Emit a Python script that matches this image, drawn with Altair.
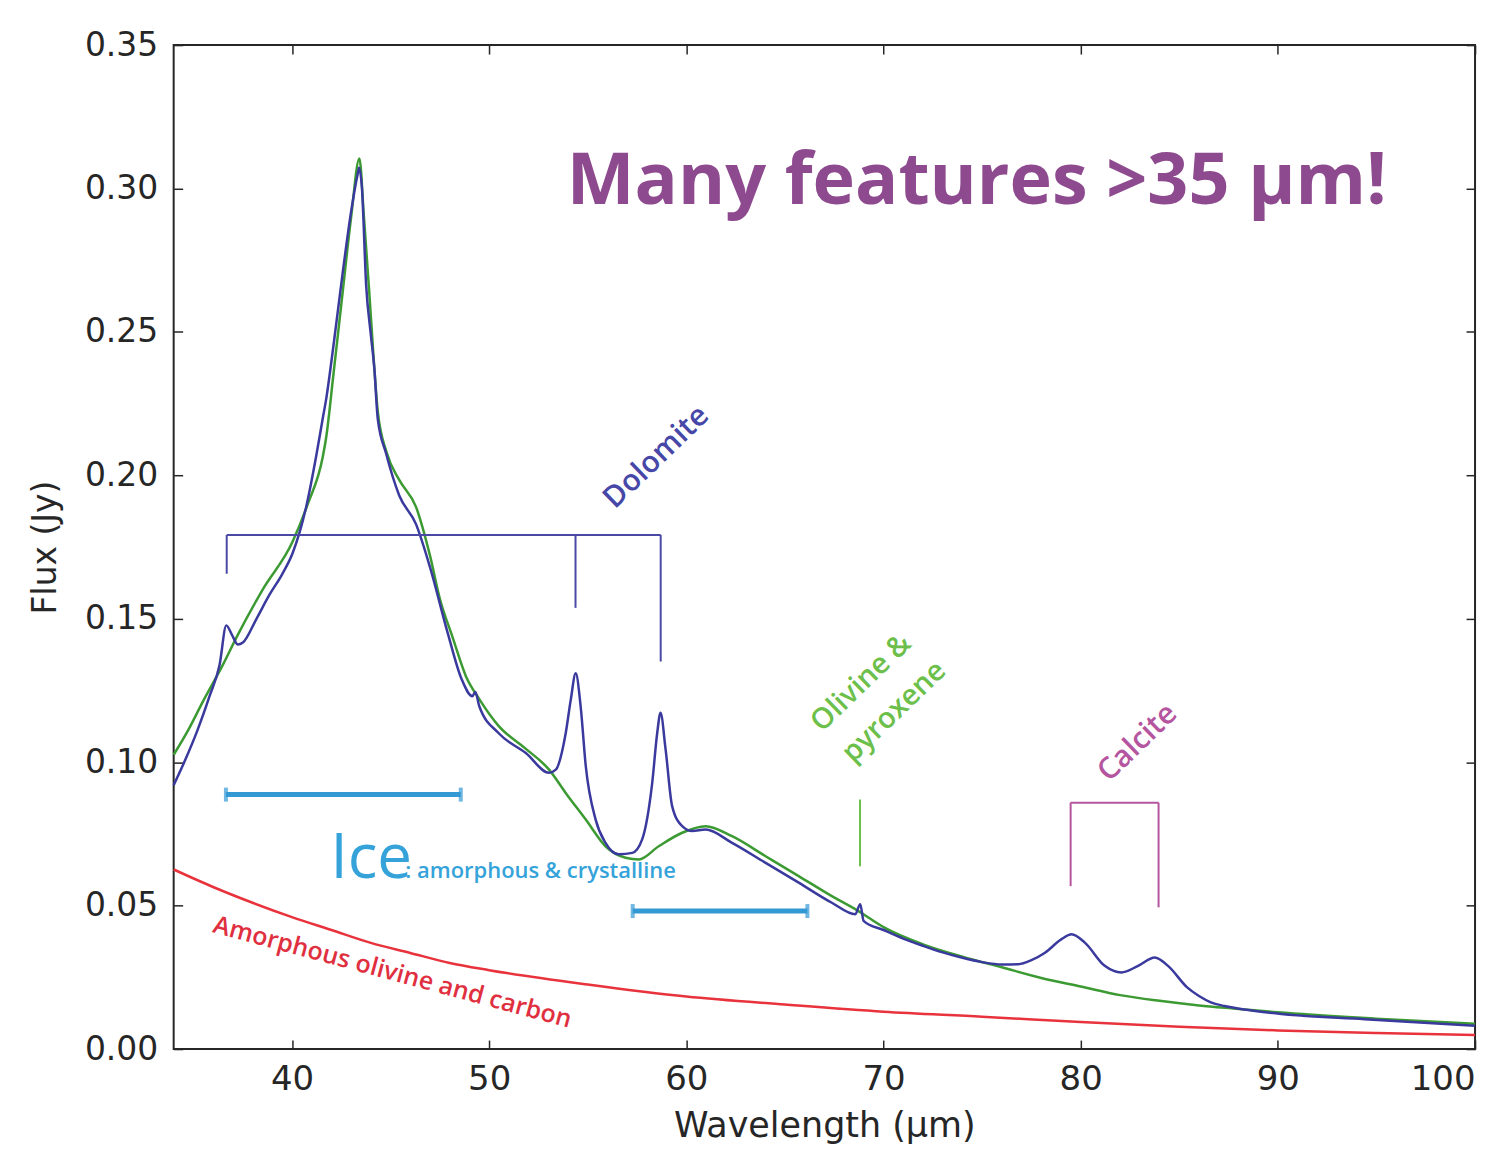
import altair as alt
import pandas as pd

# ---------------- data ----------------
blue_x = [34.0, 34.6, 35.2, 35.82, 36.33, 36.67, 36.95, 37.26, 37.51, 38.2, 38.86, 39.5, 40.04,
          40.72, 41.22, 41.56, 41.73, 42.1, 42.57, 43.0, 43.33, 43.4, 43.55, 43.76, 44.0, 44.18,
          44.35, 44.77, 45.44, 46.29, 47.0, 47.9, 48.6, 49.15, 49.3, 49.5, 50.5, 51.86, 53.04,
          53.38, 53.88, 54.14, 54.39, 54.64, 54.9, 55.4, 55.9, 56.58, 57.26, 57.76, 58.27, 58.52,
          58.69, 58.95, 59.28, 59.79, 60.3, 60.97, 62.32, 64.0, 65.7, 67.38, 68.57, 68.82, 68.99,
          70.0, 71.0, 72.0, 73.0, 74.0, 75.0, 76.0, 76.84, 77.5, 78.19, 79.03, 79.54, 80.21, 81.22,
          82.07, 82.91, 83.76, 84.43, 85.4, 86.0, 86.6, 87.3, 88.5, 90.18, 94.4, 100.0]
blue_y = [0.092, 0.101, 0.111, 0.123, 0.134, 0.1477, 0.1445, 0.141, 0.1417, 0.150, 0.1584, 0.1655,
          0.173, 0.189, 0.2064, 0.2198, 0.2264, 0.245, 0.2705, 0.292, 0.305, 0.3072, 0.300, 0.2665,
          0.249, 0.237, 0.2198, 0.2077, 0.193, 0.183, 0.168, 0.145, 0.129, 0.123, 0.1245, 0.1195,
          0.110, 0.1032, 0.0963, 0.0974, 0.110, 0.1218, 0.131, 0.1195, 0.0986, 0.080, 0.0719,
          0.0679, 0.0684, 0.0731, 0.0928, 0.110, 0.1172, 0.1044, 0.0847, 0.0777, 0.076, 0.0765,
          0.0719, 0.065, 0.058, 0.051, 0.047, 0.0505, 0.0447, 0.0415, 0.0385, 0.036, 0.0337,
          0.0318, 0.0303, 0.0295, 0.0296, 0.031, 0.0336, 0.0383, 0.040, 0.0371, 0.029, 0.0267,
          0.029, 0.0319, 0.029, 0.0215, 0.0185, 0.0163, 0.0150, 0.0136, 0.0122, 0.0104, 0.0081]

green_x = [34.0, 34.8, 35.5, 36.5, 37.2, 38.5, 40.04, 40.8, 41.56, 41.73, 42.1, 42.57, 43.0, 43.42,
           43.65, 43.92, 44.15, 44.35, 44.8, 45.44, 46.29, 47.0, 47.5, 48.14, 48.82, 49.5, 50.5,
           51.8, 53.04, 53.88, 54.9, 55.9, 56.92, 57.59, 58.6, 59.79, 60.97, 62.32, 64.0, 65.7,
           67.38, 68.73, 70.0, 72.0, 74.0, 76.0, 78.0, 80.0, 82.0, 84.0, 86.0, 88.0, 90.0, 95.0,
           100.0]
green_y = [0.1026, 0.112, 0.1214, 0.134, 0.1437, 0.160, 0.177, 0.190, 0.2064, 0.213, 0.235, 0.2638,
           0.290, 0.3105, 0.290, 0.2638, 0.240, 0.2224, 0.208, 0.1984, 0.189, 0.172, 0.157, 0.1437,
           0.130, 0.122, 0.1125, 0.105, 0.0974, 0.0893, 0.080, 0.0707, 0.0667, 0.0661, 0.0707,
           0.0754, 0.0777, 0.0742, 0.0673, 0.0603, 0.0533, 0.0481, 0.0425, 0.0365, 0.0322, 0.0285,
           0.0248, 0.0218, 0.0188, 0.0168, 0.0152, 0.0140, 0.0128, 0.0106, 0.0088]

red_x = [34, 36, 38, 40, 42, 44, 46, 48, 50, 55, 60, 65, 70, 75, 80, 85, 90, 95, 100]
red_y = [0.0626, 0.0565, 0.051, 0.046, 0.0415, 0.037, 0.0335, 0.030, 0.0275, 0.0225, 0.0183,
         0.0155, 0.013, 0.0113, 0.0094, 0.0078, 0.0065, 0.0056, 0.0049]

x_ticks = [40, 50, 60, 70, 80, 90, 100]
y_ticks = [0.0, 0.05, 0.10, 0.15, 0.20, 0.25, 0.30, 0.35]

# annotation brackets (x, y, x2, y2 in data units)
dolo_x = [36.69, 36.69, 54.38, 58.70]
dolo_y = [0.1792, 0.1792, 0.1792, 0.1792]
dolo_x2 = [58.70, 36.69, 54.38, 58.70]
dolo_y2 = [0.1792, 0.1657, 0.1538, 0.1351]

oliv_x = [68.81]
oliv_y = [0.0870]
oliv_x2 = [68.81]
oliv_y2 = [0.0637]

calc_x = [79.49, 79.49, 83.95]
calc_y = [0.0859, 0.0859, 0.0859]
calc_x2 = [83.95, 79.49, 83.95]
calc_y2 = [0.0859, 0.0568, 0.0494]

ice_x = [36.65, 57.28]
ice_x2 = [48.56, 66.14]
ice_y = [0.0887, 0.0481]

# text labels
dolo_txt = pd.DataFrame({"x": [58.48], "y": [0.2063], "t": ["Dolomite"]})
oliv_txt = pd.DataFrame({"x": [68.86, 70.53], "y": [0.1277, 0.1176], "t": ["Olivine &", "pyroxene"]})
calc_txt = pd.DataFrame({"x": [82.89], "y": [0.1068], "t": ["Calcite"]})
ice_big = pd.DataFrame({"x": [41.95], "y": [0.0595], "t": ["Ice"]})
ice_small = pd.DataFrame({"x": [45.75], "y": [0.0595], "t": [": amorphous & crystalline"]})
red_txt = pd.DataFrame({"x": [45.1], "y": [0.0268], "t": ["Amorphous olivine and carbon"]})
head_txt = pd.DataFrame({"x": [74.73], "y": [0.2947], "t": ["Many features >35 µm!"]})

# ---------------- chart ----------------
xs = alt.Scale(domain=[34, 100], nice=False, zero=False)
ys = alt.Scale(domain=[0, 0.35], nice=False, zero=False)
INK = "#262626"


def tick_axis(orient, values):
    return alt.Axis(orient=orient, offset=-9, tickSize=9, tickWidth=1.5, tickColor=INK,
                    labels=False, domain=False, grid=False, title=None, values=values)


red_df = pd.DataFrame({"x": red_x, "y": red_y})
green_df = pd.DataFrame({"x": green_x, "y": green_y})
blue_df = pd.DataFrame({"x": blue_x, "y": blue_y})

red = alt.Chart(red_df).mark_line(color="#e8333c", strokeWidth=2.5, interpolate="monotone").encode(
    x=alt.X("x:Q", scale=xs, axis=alt.Axis(
        orient="bottom", values=x_ticks, format="d", ticks=False, domain=False, grid=False,
        labelFont="DejaVu Sans", labelFontSize=34, labelColor=INK, labelPadding=14,
        title="Wavelength (μm)", titleFont="DejaVu Sans", titleFontSize=35,
        titleFontWeight="normal", titleColor=INK, titlePadding=12)),
    y=alt.Y("y:Q", scale=ys, axis=alt.Axis(
        orient="left", values=y_ticks, format=".2f", ticks=False, domain=False, grid=False,
        labelFont="DejaVu Sans", labelFontSize=33, labelColor=INK, labelPadding=16,
        title="Flux (Jy)", titleFont="DejaVu Sans", titleFontSize=33,
        titleFontWeight="normal", titleColor=INK, titlePadding=22)),
)

green = alt.Chart(green_df).mark_line(color="#3c9a32", strokeWidth=2.5, interpolate="monotone").encode(
    x=alt.X("x:Q", scale=xs, axis=tick_axis("bottom", x_ticks)),
    y=alt.Y("y:Q", scale=ys, axis=tick_axis("left", y_ticks)),
)

blue = alt.Chart(blue_df).mark_line(color="#3a3a9e", strokeWidth=2.5, interpolate="monotone").encode(
    x=alt.X("x:Q", scale=xs, axis=tick_axis("top", x_ticks)),
    y=alt.Y("y:Q", scale=ys, axis=tick_axis("right", y_ticks)),
)


def bracket(xa, ya, xb, yb, color):
    df = pd.DataFrame({"x": xa, "y": ya, "x2": xb, "y2": yb})
    return alt.Chart(df).mark_rule(color=color, strokeWidth=2).encode(
        x=alt.X("x:Q", scale=xs, axis=None), y=alt.Y("y:Q", scale=ys, axis=None),
        x2="x2:Q", y2="y2:Q")


dolo = bracket(dolo_x, dolo_y, dolo_x2, dolo_y2, "#4a4aa6")
oliv = bracket(oliv_x, oliv_y, oliv_x2, oliv_y2, "#6cbf4a")
calc = bracket(calc_x, calc_y, calc_x2, calc_y2, "#b5559f")

ice_df = pd.DataFrame({"x": ice_x, "x2": ice_x2, "y": ice_y})
ICE = "#3399d4"
ice_bar = alt.Chart(ice_df).mark_rule(color=ICE, strokeWidth=5).encode(
    x=alt.X("x:Q", scale=xs, axis=None), x2="x2:Q", y=alt.Y("y:Q", scale=ys, axis=None))
ice_caps_df = pd.DataFrame({"x": ice_x + ice_x2, "y": ice_y + ice_y})
ice_caps = alt.Chart(ice_caps_df).mark_tick(color=ICE, orient="vertical", size=14, thickness=4).encode(
    x=alt.X("x:Q", scale=xs, axis=None), y=alt.Y("y:Q", scale=ys, axis=None))


def label(df, color, size, angle=0, weight="normal", align="center", baseline="middle",
          font="Open Sans"):
    return alt.Chart(df).mark_text(color=color, fontSize=size, angle=angle, fontWeight=weight,
                                   align=align, baseline=baseline, font=font).encode(
        x=alt.X("x:Q", scale=xs, axis=None), y=alt.Y("y:Q", scale=ys, axis=None), text="t:N")


t_dolo = label(dolo_txt, "#4747a8", 30, angle=316, weight=600)
t_oliv = label(oliv_txt, "#6cbf4a", 29, angle=316, weight=600)
t_calc = label(calc_txt, "#b5559f", 30, angle=316, weight=600)
t_ice1 = label(ice_big, "#35a3d9", 62, align="left", baseline="alphabetic")
t_ice2 = label(ice_small, "#35a3d9", 22, weight=600, align="left", baseline="alphabetic")
t_red = label(red_txt, "#e0303f", 25, angle=15, weight=600)
t_head = label(head_txt, "#8e4a8e", 72, weight="bold", baseline="alphabetic")

chart = alt.layer(
    red, green, blue, dolo, oliv, calc, ice_bar, ice_caps,
    t_dolo, t_oliv, t_calc, t_ice1, t_ice2, t_red, t_head
).resolve_axis(x="independent", y="independent").properties(
    width=1304, height=1006,
    autosize=alt.AutoSizeParams(type="none"),
    padding={"left": 166, "top": 36, "right": 20, "bottom": 100},
    background="white",
).configure_view(stroke=INK, strokeWidth=2)

chart.save("out.html", embed_options={"renderer": "svg", "actions": False})
